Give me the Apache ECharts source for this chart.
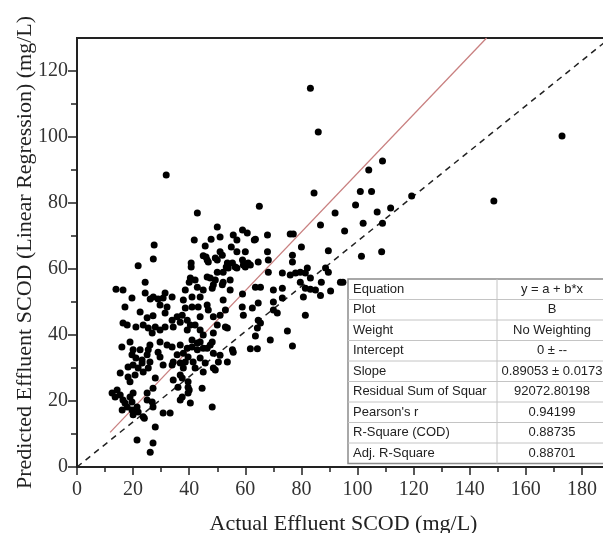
<!DOCTYPE html>
<html>
<head>
<meta charset="utf-8">
<script src="https://cdn.jsdelivr.net/npm/echarts@6.0.0/dist/echarts.min.js"></script>
<style>
  html, body { margin: 0; padding: 0; background: #fff; }
  #main { width: 603px; height: 533px; }
</style>
</head>
<body>
<div id="main"></div>
<script>
// actual vs predicted effluent SCOD (mg/L)
var points = [
  [31.8,88.5],[83.2,114.8],[86,101.5],[172.9,100.3],[148.6,80.6],[108.9,92.7],[111.8,78.5],[119.3,82.1],
  [108.9,73.9],[108.6,65.2],[101,83.5],[105,83.5],[104,90],[84.5,83],[94.8,56],
  [42.9,77],[65,79],[50,72.7],[27.5,67.3],[21.8,61],[27.2,63],[41.8,68.8],[45.7,67],[47.8,69],[51,69.7],
  [49.3,63.3],[45,64],[46.4,62.7],[51.8,64.2],[40.7,61.8],[40.7,60.6],[55,66.7],[55.7,70.3],[57,68.8],
  [59,71.8],[60.7,70.9],[57,65.2],[60,65.2],[59,62.7],[61,61.8],[63.2,68.8],[64.6,62.1],[53.2,60.6],
  [50,59],[46.4,57.6],[42.1,56.7],[40,56],[24.3,56],[38.6,53.6],[42.9,54.5],[48.6,55.2],[52.1,56],
  [54.6,53.6],[13.9,53.9],[16.4,53.6],[24.3,52.7],[27.2,51.5],[31.4,52.7],[33.9,51.5],[59,52.4],
  [99.3,79.4],[107,77.3],[92,77],[102,73.9],[86.8,73.3],[95.4,71.5],[63.6,69],[67.9,70.3],[76,70.6],
  [77.1,70.6],[80,66.7],[89.6,65.5],[101.4,63.9],[68.2,62.7],[67.9,65.2],[76.8,64.2],[76.8,62.1],
  [55.4,61.8],[57,60.3],[60,60.6],[61.8,61.2],[54.6,56.7],[68.2,59],[73.2,58.8],[76,58.2],[77.9,58.8],
  [79.6,59],[81.4,58.8],[82.1,60.3],[83.2,57.3],[87.1,56],[88.6,60.3],[89.6,59],[93.9,56],[79.6,56],
  [81.4,54.2],[83.2,53.9],[85,53.6],[86.8,52],[90.4,53.3],[80.7,51.5],[73.2,54.2],[70,53.6],[63.6,54.5],
  [65.4,54.5],[58.9,48.5],[62.5,48.2],[64.6,49.7],[70,50],[73.2,51.2],[59.3,46],[70,47.6],[71.4,46.7],
  [81.4,46],[64.6,44.5],[65.4,43.6],[64.3,42.1],[75,41.2],[63.6,39.7],[68.9,38.5],[76.8,36.7],[61.8,35.8],
  [64.3,35.8],[55.7,34.8],
  [51,65.2],[53.6,61.8],[53.9,60.3],[52.1,59],[56.4,60.6],[59.3,61.2],[51.8,55.2],[52.1,50.6],[52.9,47.6],
  [51,46],[52.9,42.4],
  [46,63.6],[46.8,62.1],[50,62.7],[47.5,57.3],[49.3,56.7],[40.4,57.3],[45,53.6],[48.2,54.2],[19.6,51.2],
  [26.1,50.9],[28.9,50.9],[30.7,51.2],[29.6,49.1],[32.1,48.5],[37.9,50.6],[41,51.5],[43.9,51.5],[38.6,48.2],
  [41,48.5],[43.2,48.5],[46.4,49.1],[46.8,47.6],[17.1,48.5],[22.5,47],[27.1,45.8],[25,45.2],[31.4,46.7],
  [33.9,44.5],[35.7,45.5],[37.5,46],[39.3,44.5],[42.1,43],[40.4,43],[36.8,43.9],[43.9,45.5],[48.6,45.5],
  [16.4,43.6],[17.9,43],[21,42.4],[23.6,43],[25.4,42.1],[27.9,42.4],[29.6,41.5],[31.4,42.4],[26.8,40.6],
  [34.3,42.4],[39.3,41.5],[43.9,41.5],[48.6,40.6],
  [16,36.4],[18.9,37.9],[20,35.5],[19.6,34],[21,33],[23.2,32.4],[25,34],[22.5,35.5],[25.4,35.5],[26,37],
  [29.6,37.9],[32.1,37],[33.9,36.4],[36.8,37],[37.9,34.5],[39.3,36],[28.9,34.8],[29.6,33.3],[35.7,34],
  [34.3,31.8],[41,36.4],[42.9,35.5],[43.9,37.9],[46.4,36],[48.6,34.5],[47.5,37],[18.2,30.3],[20,30.9],
  [21.8,30],[23.2,31.5],[23.6,28.8],[25.4,30],[26,31.8],[15.4,28.5],[18.2,27.3],[18.9,25.8],[20.7,27.9],
  [30.7,30.9],[33.9,30.9],[36.8,31.5],[37.9,30],[38.6,31.8],[39.6,33.3],[41.4,31.8],[43.9,33],[45.7,31.5],
  [34.3,26.4],[37.5,27],[39.6,25.8],[36.8,27.9],[42.1,30],[45,28.8],[48.6,30],[39.6,24.2],[36,24.2],
  [44.6,23.9],[27.9,27],[25,22.4],[25,20.3],[27.1,23.9],[12.5,22.4],[14.3,23.3],[13.6,21.2],[15.4,21.8],
  [16.4,20.3],[17.1,19.4],[18.9,21.2],[20,22.4],[19.6,19.7],[17.9,18.2],[21.4,18.2],[16.1,17.3],[19.6,17.3],
  [20,15.8],[21.8,16.7],[23.6,15.2],[26.8,19.7],[27.1,18.2],[33.2,16.4],[36.8,20.3],[37.5,21.2],[39.6,22.4],
  [40.4,19.4],[48.2,18.2],[27.9,12.1],[21.4,8.2],[27.1,7.3],[26.1,4.5],
  [50,43],[53.6,42.1],[49.3,29.4],[55.4,35.5],[53.6,31.8],[50.4,31.8],[51,33.9],[45,36],[45,40],[48.2,37.9],
  [42.9,37.6],[41,38.5],[40,23.3],[30.7,16.4],[24,14.8]
];

// fitted line (red) and diagonal reference (dashed)
var fitLine = [[11.8, 10.5], [146, 130]];
var refLine = [[0, 0], [190, 130]];

var xTicks = [0, 20, 40, 60, 80, 100, 120, 140, 160, 180];
var xMinor = [10, 30, 50, 70, 90, 110, 130, 150, 170, 190];
var yTicks = [0, 20, 40, 60, 80, 100, 120];
var yMinor = [10, 30, 50, 70, 90, 110];

var tableLabels = ['Equation', 'Plot', 'Weight', 'Intercept', 'Slope', 'Residual Sum of Squar',
  "Pearson's r", 'R-Square (COD)', 'Adj. R-Square'];
var tableValues = ['y = a + b*x', 'B', 'No Weighting', '0 \u00b1 --', '0.89053 \u00b1 0.0173',
  '92072.80198', '0.94199', '0.88735', '0.88701'];

var serif = 'Liberation Serif';
var sans = 'Liberation Sans';

var myChart = echarts.init(document.getElementById('main'));

// results table (overlay in lower right)
var tLeft = 348, tTop = 279, rowH = 20.5, col1 = 149, col2 = 120;
var graphics = [{
  type: 'rect', z: 100,
  shape: { x: tLeft, y: tTop, width: col1 + col2, height: rowH * tableLabels.length },
  style: { fill: '#fff', stroke: '#8c8c8c', lineWidth: 1.5 }
}, {
  type: 'line', z: 101,
  shape: { x1: tLeft + col1, y1: tTop, x2: tLeft + col1, y2: tTop + rowH * tableLabels.length },
  style: { stroke: '#c4c4c4', lineWidth: 1 }
}];
for (var i = 0; i < tableLabels.length; i++) {
  var cy = tTop + rowH * i + rowH / 2;
  if (i > 0) {
    graphics.push({
      type: 'line', z: 101,
      shape: { x1: tLeft, y1: tTop + rowH * i, x2: tLeft + col1 + col2, y2: tTop + rowH * i },
      style: { stroke: '#c4c4c4', lineWidth: 1 }
    });
  }
  graphics.push({
    type: 'text', z: 102, x: tLeft + 5, y: cy,
    style: { text: tableLabels[i], font: '13px ' + sans, fill: '#222', verticalAlign: 'middle', align: 'left' }
  });
  graphics.push({
    type: 'text', z: 102, x: tLeft + col1 + 55, y: cy,
    style: { text: tableValues[i], font: '13px ' + sans, fill: '#222', verticalAlign: 'middle', align: 'center' }
  });
}

var option = {
  backgroundColor: '#fff',
  animation: false,
  grid: {
    left: 77, top: 38, width: 533, height: 429,
    outerBoundsMode: 'none', containLabel: false,
    show: true, borderColor: '#222', borderWidth: 2, backgroundColor: 'transparent'
  },
  xAxis: [{
    type: 'value', min: 0, max: 190, position: 'bottom',
    name: 'Actual Effluent SCOD (mg/L)', nameLocation: 'middle', nameGap: 46, nameMoveOverlap: false,
    nameTextStyle: { fontFamily: serif, fontSize: 22, color: '#222' },
    axisLine: { show: true, onZero: false, lineStyle: { color: '#222', width: 2 } },
    axisTick: { show: true, length: 8, customValues: xTicks, lineStyle: { color: '#222', width: 1.5 } },
    axisLabel: { customValues: xTicks, fontFamily: serif, fontSize: 20, color: '#333', margin: 13 },
    splitLine: { show: false }
  }, {
    type: 'value', min: 0, max: 190, position: 'bottom',
    axisLine: { show: false, onZero: false },
    axisTick: { show: true, length: 5, customValues: xMinor, lineStyle: { color: '#222', width: 1.5 } },
    axisLabel: { show: false },
    splitLine: { show: false }
  }],
  yAxis: [{
    type: 'value', min: 0, max: 130, position: 'left',
    name: 'Predicted Effluent SCOD (Linear Regression) (mg/L)', nameLocation: 'middle', nameGap: 41,
    nameMoveOverlap: false,
    nameTextStyle: { fontFamily: serif, fontSize: 22, color: '#222' },
    axisLine: { show: true, onZero: false, lineStyle: { color: '#222', width: 2 } },
    axisTick: { show: true, length: 9, customValues: yTicks, lineStyle: { color: '#222', width: 1.5 } },
    axisLabel: { customValues: yTicks, fontFamily: serif, fontSize: 20, color: '#333', margin: 9 },
    splitLine: { show: false }
  }, {
    type: 'value', min: 0, max: 130, position: 'left',
    axisLine: { show: false, onZero: false },
    axisTick: { show: true, length: 6, customValues: yMinor, lineStyle: { color: '#222', width: 1.5 } },
    axisLabel: { show: false },
    splitLine: { show: false }
  }],
  series: [{
    name: 'ref', type: 'line', xAxisIndex: 0, yAxisIndex: 0,
    data: refLine, symbol: 'none', z: 2,
    lineStyle: { color: '#222', width: 1.5, type: [6, 5] }
  }, {
    name: 'fit', type: 'line', xAxisIndex: 0, yAxisIndex: 0,
    data: fitLine, symbol: 'none', z: 2,
    lineStyle: { color: '#c98080', width: 1.3 }
  }, {
    name: 'data', type: 'scatter', xAxisIndex: 0, yAxisIndex: 0,
    data: points, symbolSize: 7, z: 3,
    itemStyle: { color: '#000', opacity: 1 }
  }],
  graphic: graphics
};

myChart.setOption(option);
</script>
</body>
</html>
